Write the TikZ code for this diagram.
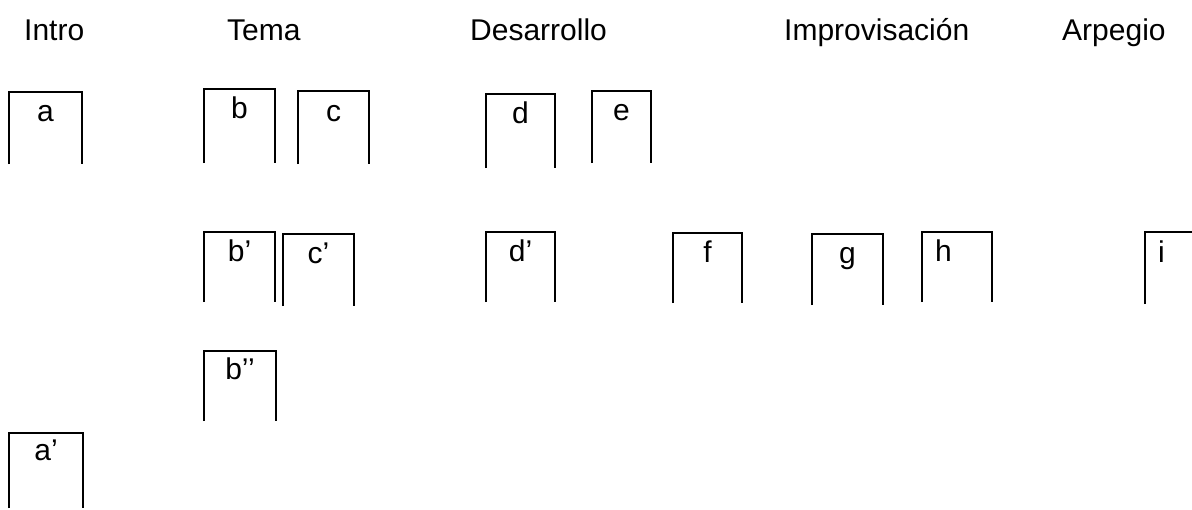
\documentclass[tikz,border=0pt]{standalone}
\usepackage{fontspec}
\setmainfont{Liberation Sans}
\newcommand\mybox[4]{\draw[boxline] (#1,#4) -- (#1,#2) -- (#3,#2) -- (#3,#4);}
\begin{document}
\begin{tikzpicture}[x=1pt,y=-1pt,
  every node/.style={inner sep=0pt, font=\fontsize{30}{36}\selectfont},
  boxline/.style={line width=1.7pt, line join=miter, black},
  lbl/.style={anchor=base},
  lblw/.style={anchor=base west},
  title/.style={anchor=base west}]
\useasboundingbox (0,0) rectangle (1192,509);
% titles
\node[title] (tintro) at (24,40) {Intro};
\node[title] (ttema) at (227,40) {Tema};
\node[title] (tdes) at (470,40) {Desarrollo};
\node[title] (timp) at (784,40) {Improvisación};
\node[title] (tarp) at (1062,40) {Arpegio};
% row 1
\mybox{9}{92}{82}{164}     \node[lbl] (a) at (45.5,121.5) {a};
\mybox{204}{89}{275}{163}  \node[lbl] (b) at (239.5,118) {b};
\mybox{298}{91}{369}{164}  \node[lbl] (c) at (333.5,121) {c};
\mybox{486}{94}{555}{168}  \node[lbl] (d) at (520.5,123) {d};
\mybox{592}{91}{651}{163}  \node[lbl] (e) at (621.5,120.5) {e};
% row 2
\mybox{204}{232}{275}{302} \node[lbl] (b1) at (239.5,261.5) {b’};
\mybox{283}{234}{354}{306} \node[lbl] (c1) at (318.5,263) {c’};
\mybox{486}{232}{555}{302} \node[lbl] (d1) at (520.5,261.5) {d’};
\mybox{673}{233}{742}{303} \node[lbl] (f) at (707.5,262) {f};
\mybox{812}{234}{883}{305} \node[lbl] (g) at (847.5,263) {g};
\mybox{922}{232}{992}{302} \node[lblw] (h) at (935,261) {h};
\mybox{1145}{232}{1200}{304} \node[lblw] (i) at (1158,262) {i};
% row 3
\mybox{204}{351}{276}{421} \node[lbl] (b2) at (240,379) {b’’};
% row 4
\mybox{9}{433}{83}{508}    \node[lbl] (a1) at (46,460) {a’};
\end{tikzpicture}
\end{document}
